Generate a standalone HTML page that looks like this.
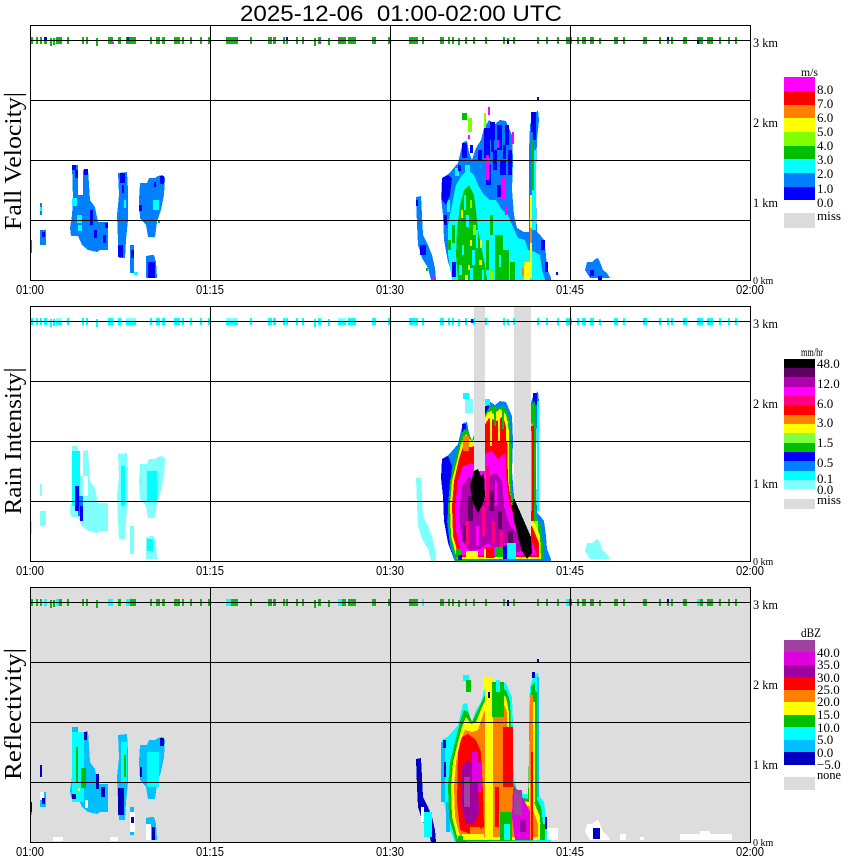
<!DOCTYPE html>
<html><head><meta charset="utf-8">
<style>
html,body{margin:0;padding:0;background:#fff;}
svg{display:block;}
.ser{font-family:"Liberation Serif",serif;}
.san{font-family:"Liberation Sans",sans-serif;}
</style></head>
<body>
<svg xmlns="http://www.w3.org/2000/svg" xmlns:xlink="http://www.w3.org/1999/xlink" width="850" height="868" viewBox="0 0 850 868" shape-rendering="crispEdges">
<defs>
<path id="envMain" d="M455,281 L448,262 L444,240 L443,215 L441,197 L442,178 L447,175 L452,170 L458,163 L461,150 L463,142 L467,141 L469,152 L472,160 L476,148 L481,140 L484,128 L489,120 L495,124 L500,120 L506,121 L509,128 L512,135 L513,160 L512,190 L514,215 L517,228 L524,232 L529,232 L529,180 L529,150 L530,125 L533,115 L538,110 L539,120 L537,140 L536,170 L536,200 L537,232 L541,236 L544,240 L546,255 L547,268 L551,278 L551,281 Z"/>
<path id="streak" d="M416,197 L421,196 L422,215 L423,235 L428,245 L432,255 L435,268 L436,280 L431,280 L428,268 L422,258 L418,245 L417,225 Z"/>
<g id="leftCl">
<polygon points="72,165 78,165 78,195 83,195 83,170 88,169 90,200 95,207 98,222 108,222 108,250 100,250 97,252 88,250 82,245 78,236 71,236 70,228 72,215 73,200"/>
<polygon points="118,173 127,172 128,190 128,220 126,240 125,258 119,258 118,240 117,215 119,195"/>
<rect x="130" y="245" width="4" height="28"/>
<polygon points="140,183 147,183 149,178 155,178 158,176 162,175 165,178 164,195 161,210 157,222 155,237 148,237 146,225 140,218 139,200"/>
<polygon points="146,256 151,255 154,255 156,262 157,278 146,278"/>
<rect x="40" y="203" width="2" height="12"/>
<rect x="40" y="230" width="6" height="15"/>
<rect x="30" y="240" width="2" height="13"/>
</g>
<path id="smallR" d="M587,262 L592,262 L595,259 L598,258 L600,262 L603,270 L607,273 L610,278 L590,278 L585,270 Z"/>
<g id="dots">
<rect x="31" y="37" width="2" height="7"/><rect x="36" y="37" width="2" height="7"/><rect x="40" y="37" width="2" height="7"/><rect x="44" y="37" width="3" height="7"/><rect x="50" y="38" width="2" height="8"/><rect x="53" y="38" width="2" height="7"/><rect x="56" y="37" width="6" height="7"/><rect x="67" y="37" width="2" height="7"/><rect x="82" y="37" width="2" height="7"/><rect x="86" y="37" width="2" height="7"/><rect x="96" y="38" width="2" height="8"/><rect x="108" y="37" width="5" height="7"/><rect x="118" y="37" width="3" height="7"/><rect x="126" y="37" width="10" height="7"/><rect x="150" y="37" width="2" height="7"/><rect x="156" y="37" width="4" height="7"/><rect x="162" y="37" width="3" height="7"/><rect x="174" y="37" width="6" height="7"/><rect x="182" y="37" width="2" height="7"/><rect x="190" y="37" width="2" height="7"/><rect x="200" y="37" width="2" height="7"/><rect x="208" y="37" width="3" height="7"/><rect x="226" y="37" width="12" height="7"/><rect x="250" y="37" width="2" height="7"/><rect x="268" y="37" width="4" height="7"/><rect x="273" y="37" width="3" height="7"/><rect x="283" y="37" width="2" height="7"/><rect x="286" y="37" width="2" height="7"/><rect x="296" y="37" width="2" height="7"/><rect x="302" y="37" width="2" height="7"/><rect x="314" y="38" width="2" height="8"/><rect x="318" y="37" width="3" height="7"/><rect x="328" y="38" width="2" height="7"/><rect x="338" y="37" width="8" height="7"/><rect x="348" y="37" width="8" height="7"/><rect x="372" y="37" width="4" height="7"/><rect x="388" y="37" width="2" height="7"/><rect x="409" y="37" width="9" height="7"/><rect x="422" y="37" width="2" height="7"/><rect x="440" y="37" width="4" height="7"/><rect x="448" y="37" width="2" height="7"/><rect x="452" y="37" width="2" height="7"/><rect x="458" y="38" width="2" height="7"/><rect x="465" y="37" width="2" height="7"/><rect x="473" y="37" width="2" height="7"/><rect x="485" y="37" width="2" height="7"/><rect x="503" y="37" width="2" height="7"/><rect x="507" y="38" width="2" height="6"/><rect x="513" y="37" width="2" height="7"/><rect x="537" y="37" width="2" height="7"/><rect x="546" y="37" width="2" height="7"/><rect x="557" y="37" width="2" height="7"/><rect x="566" y="37" width="6" height="7"/><rect x="577" y="37" width="2" height="7"/><rect x="582" y="37" width="4" height="7"/><rect x="590" y="37" width="4" height="7"/><rect x="599" y="38" width="2" height="6"/><rect x="614" y="37" width="4" height="7"/><rect x="623" y="37" width="2" height="7"/><rect x="643" y="37" width="4" height="7"/><rect x="659" y="37" width="2" height="7"/><rect x="667" y="37" width="2" height="7"/><rect x="671" y="37" width="2" height="7"/><rect x="683" y="37" width="4" height="7"/><rect x="697" y="37" width="6" height="7"/><rect x="707" y="37" width="6" height="7"/><rect x="719" y="37" width="2" height="7"/><rect x="728" y="37" width="2" height="7"/><rect x="735" y="37" width="2" height="7"/>
</g>
<g id="grid">
<path d="M30,40.5H750 M30,100.5H750 M30,160.5H750 M30,220.5H750 M210.5,25V281 M390.5,25V281 M570.5,25V281" stroke="#000" stroke-width="1" fill="none"/>
<rect x="30.5" y="25.5" width="720" height="255" fill="none" stroke="#000" stroke-width="1"/>
</g>
<g id="axlab" class="ser" font-size="13" fill="#000">
<text x="753" y="47" textLength="25" lengthAdjust="spacingAndGlyphs">3 km</text>
<text x="753" y="127" textLength="25" lengthAdjust="spacingAndGlyphs">2 km</text>
<text x="753" y="207" textLength="25" lengthAdjust="spacingAndGlyphs">1 km</text>
<text x="753" y="284" font-size="10">0 km</text>
<g class="san" font-size="13" text-anchor="middle">
<text x="30" y="294" textLength="28" lengthAdjust="spacingAndGlyphs">01:00</text>
<text x="210" y="294" textLength="28" lengthAdjust="spacingAndGlyphs">01:15</text>
<text x="390" y="294" textLength="28" lengthAdjust="spacingAndGlyphs">01:30</text>
<text x="570" y="294" textLength="28" lengthAdjust="spacingAndGlyphs">01:45</text>
<text x="750" y="294" textLength="28" lengthAdjust="spacingAndGlyphs">02:00</text>
</g>
</g>
</defs>

<rect x="0" y="0" width="850" height="868" fill="#fff"/>

<text class="san" x="240" y="21" font-size="22" textLength="322" lengthAdjust="spacingAndGlyphs" style="white-space:pre">2025-12-06  01:00-02:00 UTC</text>

<!-- ================= PANEL 1 ================= -->
<g>
<use href="#envMain" xlink:href="#envMain" fill="#0080ff"/>
<use href="#streak" xlink:href="#streak" fill="#0080ff"/>
<use href="#leftCl" xlink:href="#leftCl" fill="#0080ff"/>
<use href="#smallR" xlink:href="#smallR" fill="#0080ff"/>
<path fill="#00ffff" d="M452,280 L448,255 L448,225 L452,205 L456,185 L462,175 L468,170 L474,175 L478,185 L484,195 L490,200 L496,200 L502,210 L508,215 L512,225 L518,238 L525,240 L528,250 L535,252 L540,255 L542,270 L545,280 Z"/>
<g fill="#00ffff"><rect x="532" y="150" width="4" height="80"/><rect x="465" y="165" width="5" height="10"/><rect x="455" y="168" width="4" height="8"/><rect x="447" y="200" width="3" height="12"/></g>
<path fill="#00c000" d="M458,280 L456,255 L457,230 L460,205 L464,190 L469,185 L474,195 L476,210 L478,230 L482,250 L485,265 L487,280 Z"/>
<g fill="#00c000"><rect x="495" y="235" width="8" height="45"/><rect x="503" y="250" width="6" height="30"/><rect x="510" y="262" width="5" height="18"/><rect x="531" y="140" width="3" height="50"/><rect x="462" y="113" width="5" height="7"/><rect x="448" y="240" width="3" height="10"/><rect x="490" y="215" width="3" height="20"/><rect x="452" y="225" width="3" height="18"/><rect x="486" y="240" width="3" height="30"/></g>
<g fill="#00ffff"><rect x="466" y="215" width="3" height="12"/><rect x="472" y="250" width="3" height="15"/><rect x="462" y="245" width="2" height="10"/><rect x="499" y="255" width="2" height="12"/><rect x="464" y="195" width="2" height="15"/><rect x="476" y="230" width="2" height="18"/><rect x="459" y="265" width="3" height="10"/><rect x="470" y="268" width="3" height="12"/><rect x="482" y="270" width="2" height="10"/></g>
<g fill="#80ff00"><rect x="468" y="118" width="4" height="14"/><rect x="484" y="113" width="2" height="15"/><rect x="473" y="225" width="3" height="10"/><rect x="490" y="270" width="3" height="10"/><rect x="470" y="200" width="2" height="8"/></g>
<g fill="#ffff00"><rect x="461" y="210" width="2" height="8"/><rect x="470" y="240" width="2" height="6"/><rect x="480" y="240" width="2" height="8"/><rect x="479" y="260" width="3" height="5"/><rect x="468" y="265" width="2" height="5"/><rect x="530" y="195" width="2" height="83"/><rect x="524" y="262" width="6" height="18"/><rect x="465" y="275" width="3" height="5"/></g>
<g fill="#ff8000"><rect x="530" y="228" width="2" height="15"/><rect x="522" y="268" width="2" height="8"/></g>
<path fill="#0000ff" d="M442,178 L448,175 L452,178 L450,195 L446,205 L442,200 Z"/>
<g fill="#0000ff"><rect x="484" y="128" width="6" height="30"/><rect x="490" y="122" width="5" height="18"/><rect x="497" y="125" width="5" height="25"/><rect x="505" y="125" width="4" height="20"/><rect x="493" y="150" width="4" height="20"/><rect x="500" y="160" width="6" height="15"/><rect x="486" y="165" width="5" height="20"/><rect x="508" y="150" width="4" height="25"/><rect x="497" y="185" width="6" height="12"/><rect x="531" y="112" width="5" height="20"/><rect x="533" y="130" width="3" height="10"/><rect x="462" y="143" width="5" height="15"/><rect x="541" y="240" width="4" height="10"/><rect x="545" y="262" width="3" height="10"/><rect x="452" y="262" width="4" height="15"/><rect x="537" y="97" width="2" height="3"/><rect x="556" y="272" width="2" height="3"/><rect x="470" y="145" width="3" height="8"/><rect x="458" y="165" width="3" height="6"/><rect x="416" y="200" width="2" height="6"/><rect x="420" y="245" width="6" height="10"/><rect x="491" y="140" width="3" height="12"/><rect x="503" y="145" width="3" height="14"/><rect x="478" y="150" width="4" height="10"/><rect x="444" y="215" width="3" height="10"/></g>
<g fill="#ff00ff"><rect x="488" y="107" width="2" height="8"/><rect x="486" y="155" width="3" height="25"/><rect x="501" y="178" width="4" height="22"/><rect x="512" y="132" width="2" height="12"/><rect x="505" y="205" width="2" height="10"/><rect x="468" y="135" width="2" height="4"/><rect x="497" y="140" width="2" height="8"/><rect x="432" y="276" width="2" height="3"/></g>
<rect x="426" y="268" width="2" height="3" fill="#00c000"/>
<g fill="#0000ff"><rect x="72" y="165" width="4" height="5"/><rect x="75" y="170" width="3" height="8"/><rect x="84" y="169" width="4" height="6"/><rect x="90" y="210" width="3" height="15"/><rect x="94" y="230" width="3" height="8"/><rect x="105" y="223" width="3" height="5"/><rect x="103" y="235" width="3" height="8"/><rect x="120" y="173" width="5" height="10"/><rect x="118" y="245" width="5" height="12"/><rect x="131" y="250" width="3" height="8"/><rect x="160" y="176" width="4" height="8"/><rect x="148" y="262" width="7" height="16"/><rect x="42" y="232" width="3" height="5"/><rect x="122" y="185" width="2" height="8"/><rect x="139" y="205" width="3" height="6"/><rect x="154" y="182" width="2" height="5"/><rect x="590" y="270" width="4" height="6"/><rect x="598" y="276" width="4" height="4"/></g>
<g fill="#00ffff"><rect x="72" y="198" width="5" height="8"/><rect x="77" y="215" width="5" height="8"/><rect x="78" y="225" width="4" height="6"/><rect x="153" y="200" width="6" height="10"/><rect x="40" y="207" width="2" height="4"/><rect x="134" y="272" width="4" height="3"/><rect x="124" y="200" width="2" height="8"/></g>
<rect x="158" y="220" width="2" height="3" fill="#00c000"/>
<use href="#dots" xlink:href="#dots" fill="#00c000"/>
<g fill="#0000ff"><rect x="44" y="37" width="3" height="3"/><rect x="127" y="37" width="2" height="3"/><rect x="286" y="37" width="2" height="3"/><rect x="507" y="40" width="2" height="4"/><rect x="667" y="37" width="2" height="3"/><rect x="697" y="40" width="2" height="4"/></g>
<g fill="#ff00ff"><rect x="111" y="42" width="3" height="2"/><rect x="319" y="42" width="2" height="2"/><rect x="338" y="37" width="2" height="2"/></g>
<use href="#grid" xlink:href="#grid"/>
<use href="#axlab" xlink:href="#axlab"/>
</g>

<!-- ================= PANEL 2 ================= -->
<g transform="translate(0,281)">
<use href="#envMain" xlink:href="#envMain" fill="#0080ff"/>
<path fill="#0000ff" d="M441,197 L442,178 L448,175 L452,185 L450,215 L447,240 L450,265 L455,280 L448,262 L444,240 L443,215 Z"/>
<g fill="#0000ff"><rect x="533" y="112" width="4" height="12"/><rect x="484" y="125" width="5" height="10"/><rect x="462" y="143" width="4" height="8"/></g>
<path fill="#00c000" d="M456,280 L449,255 L448,225 L450,200 L455,180 L460,160 L464,148 L468,150 L472,160 L478,148 L484,135 L490,125 L496,128 L502,125 L507,130 L510,140 L511,170 L511,200 L513,220 L520,235 L528,237 L530,150 L531,125 L535,120 L536,150 L535,200 L536,235 L541,245 L543,262 L544,278 Z"/>
<g fill="#80ff40"><rect x="452" y="230" width="3" height="25"/><rect x="455" y="200" width="3" height="20"/><rect x="535" y="240" width="3" height="20"/></g>
<path fill="#ffff00" d="M457,278 L451,255 L450,225 L452,200 L457,180 L461,163 L466,153 L471,160 L476,158 L482,143 L488,131 L494,133 L500,128 L506,133 L509,150 L509,200 L511,220 L518,238 L529,240 L530,160 L532,140 L534,160 L534,240 L540,255 L541,278 Z"/>
<path fill="#ff0000" d="M459,276 L453,255 L452,225 L454,200 L459,178 L463,166 L471,166 L477,164 L483,147 L489,137 L497,140 L503,135 L507,150 L508,200 L512,225 L520,242 L532,245 L539,262 L539,276 Z"/>
<rect x="531" y="145" width="3" height="95" fill="#ff0000"/>
<rect x="530" y="150" width="2" height="80" fill="#ff8000"/>
<rect x="463" y="155" width="6" height="15" fill="#ff8000"/>
<path fill="#ff00ff" d="M461,274 L456,250 L455,225 L458,200 L463,185 L472,182 L480,190 L486,172 L492,170 L498,178 L505,172 L507,205 L510,225 L518,245 L530,255 L537,274 Z"/>
<polygon fill="#b000b0" points="459,235 462,205 470,195 476,210 480,230 486,215 488,195 496,192 502,200 504,225 510,245 520,255 528,268 515,272 505,262 496,268 488,262 480,268 470,270 462,260"/>
<g fill="#ff0080"><rect x="486" y="185" width="3" height="40"/><rect x="482" y="225" width="3" height="30"/><rect x="466" y="240" width="3" height="25"/><rect x="500" y="250" width="3" height="20"/><rect x="492" y="240" width="3" height="22"/><rect x="474" y="175" width="3" height="20"/></g>
<g fill="#600060"><rect x="468" y="215" width="5" height="25"/><rect x="490" y="210" width="4" height="20"/><rect x="480" y="205" width="4" height="15"/><rect x="498" y="230" width="4" height="18"/><rect x="463" y="245" width="3" height="15"/><rect x="508" y="250" width="5" height="12"/></g>
<g fill="#ff00ff"><rect x="476" y="245" width="3" height="20"/><rect x="495" y="200" width="2" height="25"/></g>
<g fill="#ffff00"><rect x="490" y="130" width="2" height="35"/><rect x="498" y="135" width="2" height="25"/><rect x="506" y="140" width="2" height="20"/><rect x="466" y="270" width="12" height="6"/><rect x="484" y="268" width="3" height="9"/></g>
<g fill="#00c000"><rect x="494" y="125" width="2" height="20"/><rect x="502" y="130" width="2" height="18"/><rect x="495" y="266" width="8" height="10"/><rect x="456" y="268" width="5" height="9"/></g>
<rect x="486" y="266" width="8" height="11" fill="#ff0000"/>
<rect x="503" y="264" width="4" height="14" fill="#0000ff"/>
<rect x="507" y="262" width="9" height="16" fill="#00ffff"/>
<rect x="458" y="274" width="4" height="5" fill="#0000ff"/>
<g fill="#00ffff"><rect x="463" y="112" width="6" height="6"/><rect x="484" y="118" width="6" height="6"/><rect x="537" y="120" width="2" height="110"/></g>
<rect x="465" y="118" width="8" height="14" fill="#80ffff"/>
<use href="#streak" xlink:href="#streak" fill="#80ffff"/>
<rect x="474" y="26" width="11" height="164" fill="#dcdcdc"/>
<path fill="#000" d="M474,190 L478,188 L481,195 L484,192 L485,215 L482,225 L478,232 L473,222 L470,205 Z"/>
<path fill="#dcdcdc" d="M514,26 L531,26 L531,256 L514,217 Z"/>
<path fill="#000" d="M514,217 L531,256 L532,272 L527,278 L522,270 L518,255 L514,240 L512,225 Z"/>
<use href="#leftCl" xlink:href="#leftCl" fill="#80ffff"/>
<g fill="#00ffff"><rect x="72" y="170" width="8" height="55"/><rect x="121" y="185" width="4" height="40"/><rect x="147" y="190" width="10" height="30"/><rect x="147" y="258" width="6" height="12"/></g>
<g fill="#ffffff"><rect x="83" y="195" width="5" height="20"/><rect x="128" y="200" width="1" height="1"/></g>
<g fill="#0080ff"><rect x="78" y="215" width="5" height="20"/></g>
<g fill="#0000ff"><rect x="75" y="205" width="4" height="25"/><rect x="80" y="225" width="3" height="15"/></g>
<use href="#smallR" xlink:href="#smallR" fill="#80ffff"/>
<use href="#dots" xlink:href="#dots" fill="#00ffff"/>
<g fill="#80ffff"><rect x="56" y="37" width="6" height="4"/><rect x="126" y="37" width="10" height="4"/><rect x="226" y="37" width="12" height="4"/><rect x="338" y="37" width="8" height="4"/></g>
<rect x="471" y="38" width="2" height="4" fill="#0000ff"/>
<use href="#grid" xlink:href="#grid"/>
<use href="#axlab" xlink:href="#axlab"/>
</g>

<!-- ================= PANEL 3 ================= -->
<g transform="translate(0,562)">
<rect x="30" y="25" width="720" height="255" fill="#dddddd"/>
<use href="#envMain" xlink:href="#envMain" fill="#00ffff"/>
<g fill="#00c0ff"><rect x="441" y="180" width="4" height="60"/><rect x="446" y="240" width="4" height="30"/><rect x="537" y="115" width="2" height="120"/></g>
<path fill="#00c000" d="M456,280 L449,255 L448,225 L450,200 L455,180 L460,160 L464,148 L468,150 L472,160 L478,148 L484,135 L490,125 L496,128 L502,125 L507,130 L510,140 L511,170 L511,200 L513,220 L520,235 L528,237 L530,150 L531,125 L535,120 L536,150 L535,200 L536,235 L541,245 L543,262 L544,278 Z"/>
<path fill="#ffff00" d="M458,278 L452,255 L451,225 L453,200 L458,180 L462,165 L466,155 L471,162 L476,160 L482,145 L488,133 L494,135 L500,130 L506,135 L509,150 L509,200 L511,220 L518,238 L529,240 L530,160 L532,140 L534,160 L534,240 L540,255 L541,278 Z"/>
<path fill="#ff8000" d="M460,275 L455,255 L454,225 L456,200 L460,180 L465,168 L472,170 L478,168 L484,150 L490,142 L497,145 L503,140 L507,150 L508,200 L512,225 L520,242 L532,245 L538,262 L538,275 Z"/>
<polygon fill="#ff0000" points="458,190 462,175 468,172 476,178 481,190 483,230 484,265 470,272 460,268 457,240"/>
<polygon fill="#a000a0" points="462,205 468,198 474,205 478,225 479,250 474,262 466,262 461,240"/>
<g fill="#e000e0"><rect x="472" y="190" width="6" height="30"/><rect x="478" y="200" width="4" height="30"/></g>
<rect x="464" y="215" width="6" height="30" fill="#a040a0"/>
<rect x="485" y="115" width="8" height="160" fill="#ffff00"/>
<rect x="493" y="160" width="10" height="110" fill="#ff8000"/>
<rect x="503" y="165" width="10" height="60" fill="#ff0000"/>
<g fill="#00c000"><rect x="492" y="120" width="12" height="35"/><rect x="500" y="250" width="12" height="28"/></g>
<g fill="#00ffff"><rect x="496" y="118" width="4" height="12"/><rect x="504" y="262" width="6" height="16"/></g>
<rect x="495" y="225" width="4" height="40" fill="#ff0000"/>
<polygon fill="#e000e0" points="513,225 518,228 525,240 530,250 531,278 515,278 512,255"/>
<rect x="514" y="228" width="8" height="25" fill="#a040a0"/>
<rect x="520" y="258" width="6" height="12" fill="#a000a0"/>
<rect x="530" y="133" width="3" height="145" fill="#ff8000"/>
<rect x="531" y="190" width="2" height="88" fill="#ff0000"/>
<rect x="533" y="140" width="2" height="100" fill="#ffff00"/>
<rect x="535" y="130" width="2" height="110" fill="#00c000"/>
<rect x="462" y="272" width="22" height="6" fill="#ffff00"/>
<rect x="458" y="274" width="5" height="5" fill="#00c000"/>
<rect x="470" y="265" width="10" height="7" fill="#ff8000"/>
<rect x="540" y="262" width="5" height="16" fill="#00c000"/>
<rect x="463" y="113" width="6" height="6" fill="#00ffff"/>
<rect x="466" y="118" width="5" height="12" fill="#00c000"/>
<rect x="483" y="113" width="2" height="15" fill="#ffff00"/>
<g fill="#0000c0"><rect x="443" y="178" width="3" height="8"/><rect x="444" y="200" width="2" height="15"/><rect x="488" y="130" width="2" height="6"/><rect x="532" y="110" width="3" height="6"/><rect x="537" y="97" width="2" height="3"/><rect x="545" y="255" width="2" height="12"/></g>
<use href="#streak" xlink:href="#streak" fill="#0000c0"/>
<rect x="424" y="250" width="8" height="25" fill="#00ffff"/>
<rect x="421" y="245" width="3" height="15" fill="#fff"/>
<rect x="432" y="272" width="3" height="8" fill="#0000c0"/>
<g fill="#fff"><rect x="547" y="266" width="11" height="12"/><rect x="680" y="272" width="52" height="6"/><rect x="620" y="272" width="6" height="6"/><rect x="640" y="275" width="4" height="3"/><rect x="700" y="269" width="10" height="4"/></g>
<use href="#smallR" xlink:href="#smallR" fill="#fff"/>
<rect x="593" y="266" width="7" height="11" fill="#0000c0"/>
<use href="#leftCl" xlink:href="#leftCl" fill="#00c0ff"/>
<g fill="#00ffff"><rect x="72" y="170" width="12" height="70"/><rect x="121" y="180" width="6" height="40"/><rect x="147" y="190" width="12" height="35"/></g>
<g fill="#00c000"><rect x="76" y="185" width="2" height="35"/><rect x="81" y="206" width="5" height="20"/><rect x="124" y="193" width="2" height="22"/></g>
<rect x="78" y="226" width="2" height="3" fill="#ffff00"/>
<g fill="#0000c0"><rect x="84" y="170" width="3" height="8"/><rect x="96" y="212" width="3" height="15"/><rect x="101" y="225" width="4" height="10"/><rect x="118" y="226" width="6" height="27"/><rect x="160" y="176" width="4" height="8"/><rect x="72" y="232" width="4" height="5"/><rect x="140" y="205" width="2" height="10"/><rect x="40" y="203" width="2" height="12"/><rect x="30" y="240" width="2" height="10"/></g>
<g fill="#fff"><rect x="40" y="230" width="4" height="8"/><rect x="53" y="275" width="10" height="4"/><rect x="110" y="275" width="8" height="4"/><rect x="130" y="250" width="5" height="20"/><rect x="146" y="262" width="5" height="16"/><rect x="85" y="238" width="3" height="8"/></g>
<g fill="#0000c0"><rect x="152" y="265" width="3" height="13"/><rect x="42" y="236" width="3" height="6"/><rect x="131" y="255" width="3" height="6"/></g>
<use href="#dots" xlink:href="#dots" fill="#00c000"/>
<g fill="#00ffff"><rect x="44" y="37" width="3" height="7"/><rect x="108" y="37" width="5" height="7"/><rect x="126" y="37" width="4" height="7"/><rect x="226" y="37" width="5" height="7"/><rect x="338" y="37" width="4" height="7"/><rect x="422" y="37" width="2" height="7"/><rect x="566" y="37" width="3" height="7"/><rect x="697" y="37" width="3" height="7"/><rect x="56" y="37" width="3" height="7"/></g>
<g fill="#0000c0"><rect x="507" y="38" width="2" height="6"/><rect x="667" y="37" width="2" height="4"/></g>
<use href="#grid" xlink:href="#grid"/>
<use href="#axlab" xlink:href="#axlab"/>
</g>

<!-- Y axis titles -->
<g class="ser" font-size="24" fill="#000">
<text transform="translate(21,161) rotate(-90)" text-anchor="middle" textLength="138" lengthAdjust="spacingAndGlyphs">Fall Velocity|</text>
<text transform="translate(21,441) rotate(-90)" text-anchor="middle" textLength="147" lengthAdjust="spacingAndGlyphs">Rain Intensity|</text>
<text transform="translate(21,714) rotate(-90)" text-anchor="middle" textLength="132" lengthAdjust="spacingAndGlyphs">Reflectivity|</text>
</g>

<!-- Legend 1 -->
<g>
<rect x="784" y="77" width="31" height="14" fill="#ff00ff"/>
<rect x="784" y="91" width="31" height="14" fill="#ff0000"/>
<rect x="784" y="105" width="31" height="13" fill="#ff8000"/>
<rect x="784" y="118" width="31" height="14" fill="#ffff00"/>
<rect x="784" y="132" width="31" height="14" fill="#80ff00"/>
<rect x="784" y="146" width="31" height="13" fill="#00c000"/>
<rect x="784" y="159" width="31" height="14" fill="#00ffff"/>
<rect x="784" y="173" width="31" height="14" fill="#0080ff"/>
<rect x="784" y="187" width="31" height="13" fill="#0000ff"/>
<rect x="784" y="213" width="31" height="15" fill="#dcdcdc"/>
<g class="ser" font-size="13" fill="#000">
<text x="801" y="76" font-size="12" textLength="17" lengthAdjust="spacingAndGlyphs">m/s</text>
<text x="817" y="94">8.0</text><text x="817" y="108">7.0</text><text x="817" y="122">6.0</text><text x="817" y="136">5.0</text><text x="817" y="150">4.0</text><text x="817" y="164">3.0</text><text x="817" y="178">2.0</text><text x="817" y="193">1.0</text><text x="817" y="207">0.0</text><text x="817" y="220" textLength="24" lengthAdjust="spacingAndGlyphs">miss</text>
</g>
</g>

<!-- Legend 2 -->
<g>
<rect x="784" y="359" width="31" height="9" fill="#000000"/>
<rect x="784" y="368" width="31" height="9" fill="#600060"/>
<rect x="784" y="377" width="31" height="10" fill="#b000b0"/>
<rect x="784" y="387" width="31" height="9" fill="#ff00ff"/>
<rect x="784" y="396" width="31" height="9" fill="#ff0080"/>
<rect x="784" y="405" width="31" height="10" fill="#ff0000"/>
<rect x="784" y="415" width="31" height="9" fill="#ff8000"/>
<rect x="784" y="424" width="31" height="9" fill="#ffff00"/>
<rect x="784" y="433" width="31" height="10" fill="#80ff40"/>
<rect x="784" y="443" width="31" height="9" fill="#00c000"/>
<rect x="784" y="452" width="31" height="9" fill="#0000ff"/>
<rect x="784" y="461" width="31" height="10" fill="#0080ff"/>
<rect x="784" y="471" width="31" height="9" fill="#00ffff"/>
<rect x="784" y="480" width="31" height="9" fill="#80ffff"/>
<rect x="784" y="499" width="31" height="10" fill="#dcdcdc"/>
<g class="ser" font-size="13" fill="#000">
<text x="801" y="356" font-size="12" textLength="22" lengthAdjust="spacingAndGlyphs">mm/hr</text>
<text x="817" y="368">48.0</text><text x="817" y="388">12.0</text><text x="817" y="408">6.0</text><text x="817" y="427">3.0</text><text x="817" y="447">1.5</text><text x="817" y="467">0.5</text><text x="817" y="483">0.1</text><text x="817" y="494">0.0</text><text x="817" y="504" textLength="24" lengthAdjust="spacingAndGlyphs">miss</text>
</g>
</g>

<!-- Legend 3 -->
<g>
<rect x="784" y="640" width="31" height="12" fill="#a040a0"/>
<rect x="784" y="652" width="31" height="13" fill="#e000e0"/>
<rect x="784" y="665" width="31" height="12" fill="#a000a0"/>
<rect x="784" y="677" width="31" height="13" fill="#ff0000"/>
<rect x="784" y="690" width="31" height="12" fill="#ff8000"/>
<rect x="784" y="702" width="31" height="13" fill="#ffff00"/>
<rect x="784" y="715" width="31" height="12" fill="#00c000"/>
<rect x="784" y="727" width="31" height="13" fill="#00ffff"/>
<rect x="784" y="740" width="31" height="12" fill="#00c0ff"/>
<rect x="784" y="752" width="31" height="13" fill="#0000c0"/>
<rect x="784" y="777" width="31" height="13" fill="#dcdcdc"/>
<g class="ser" font-size="13" fill="#000">
<text x="801" y="637" textLength="20" lengthAdjust="spacingAndGlyphs">dBZ</text>
<text x="817" y="657">40.0</text><text x="817" y="669">35.0</text><text x="817" y="682">30.0</text><text x="817" y="694">25.0</text><text x="817" y="706">20.0</text><text x="817" y="719">15.0</text><text x="817" y="732">10.0</text><text x="817" y="744">5.0</text><text x="817" y="757">0.0</text><text x="817" y="769">−5.0</text><text x="817" y="779" textLength="24" lengthAdjust="spacingAndGlyphs">none</text>
</g>
</g>
</svg>
</body></html>
